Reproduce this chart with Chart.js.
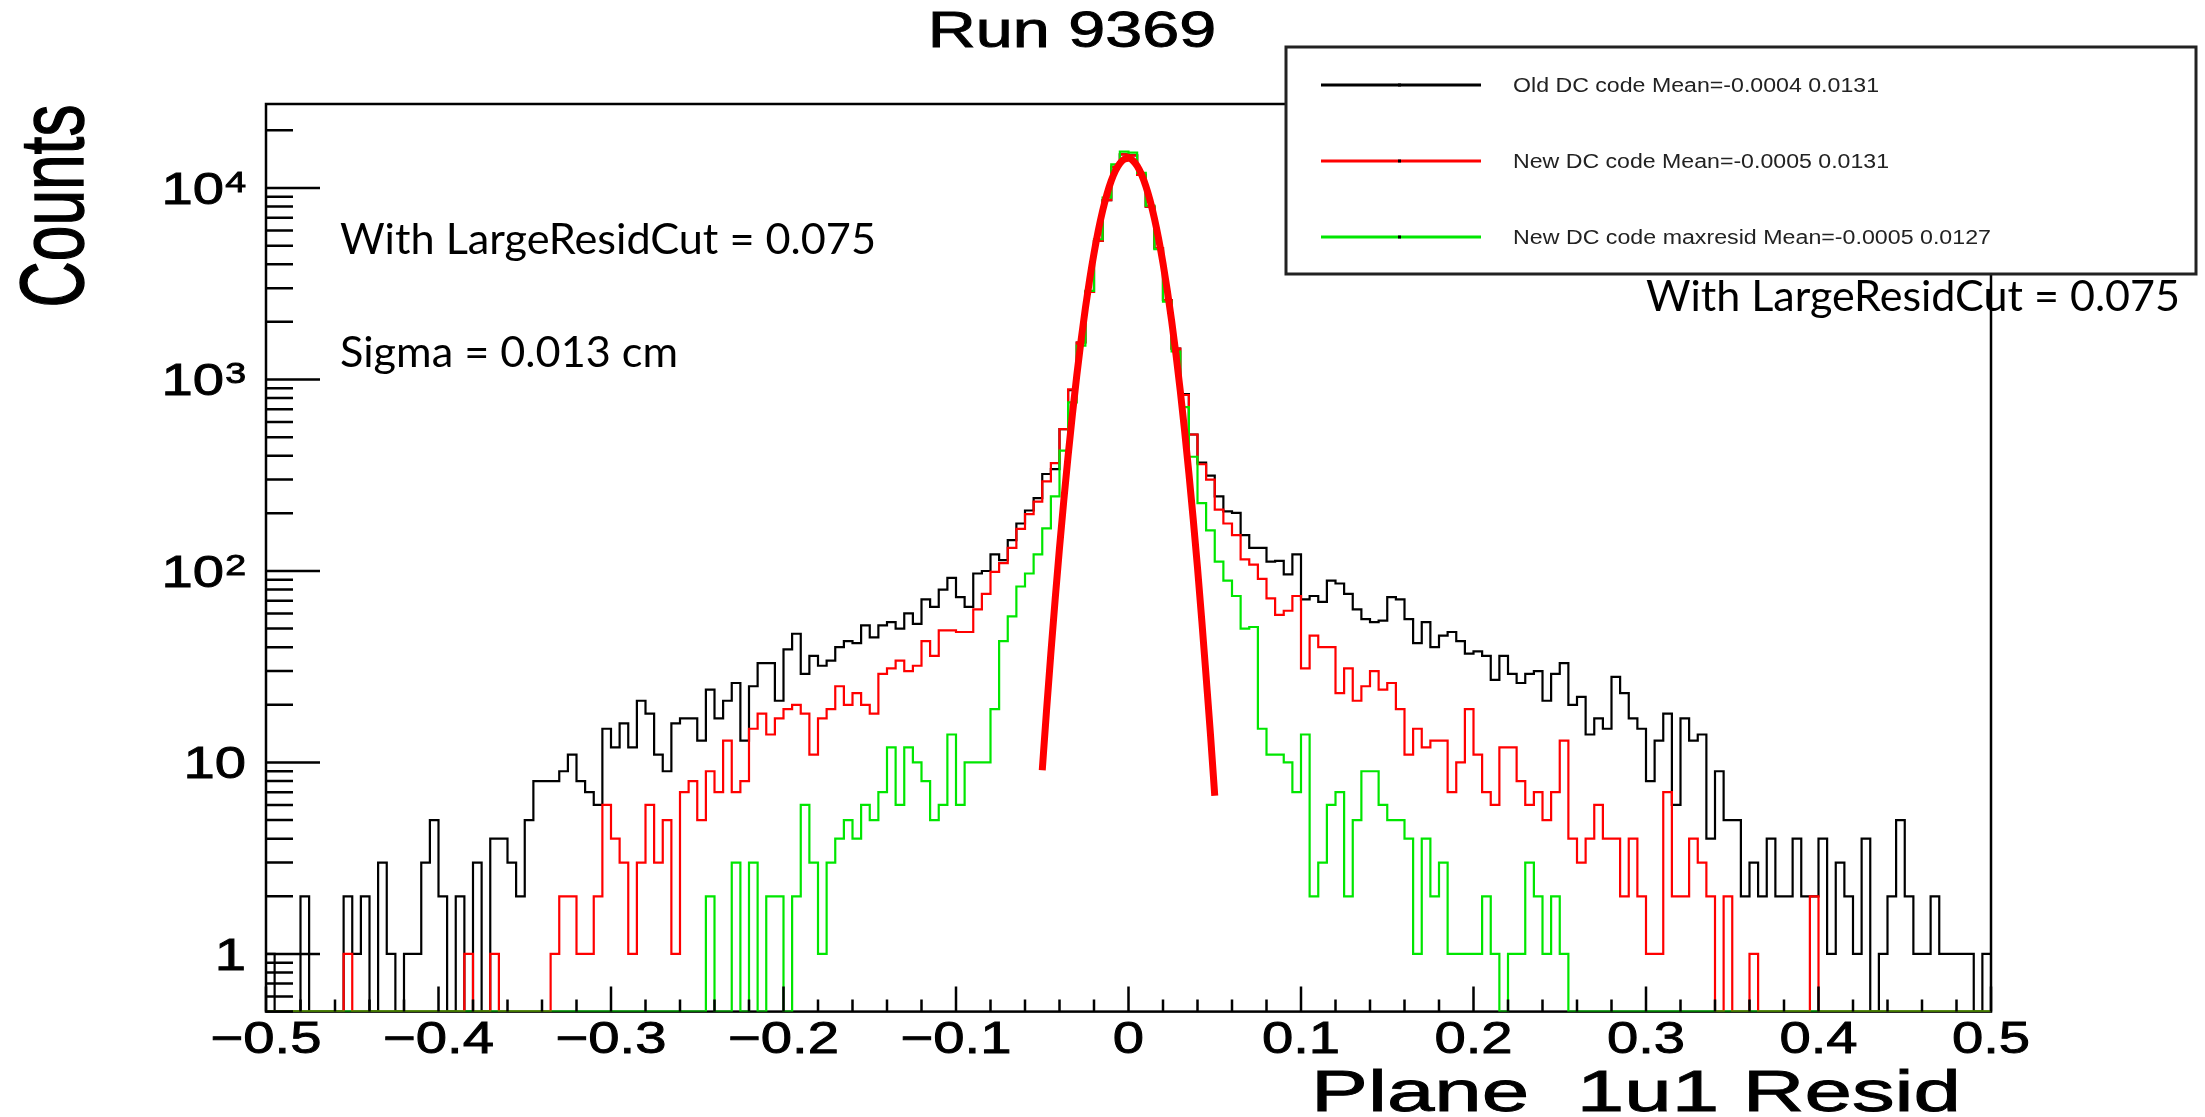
<!DOCTYPE html>
<html>
<head>
<meta charset="utf-8">
<title>Run 9369</title>
<script src="https://cdn.jsdelivr.net/npm/chart.js@4.4.1/dist/chart.umd.min.js"></script>
<style>
  html, body { margin: 0; padding: 0; background: #fff; }
  #wrap { width: 2205px; height: 1117px; position: relative; }
</style>
</head>
<body>
<div id="wrap"><canvas id="resid"></canvas></div>
<script>
// 200 bins from -0.5 to 0.5
const binLow = -0.5;
const binWidth = 0.005;

const oldDC = [
  1, 0, 0, 0, 2, 0, 0, 0, 0, 2, 1, 2, 0, 3, 1, 0, 1, 1, 3, 5,
  2, 0, 2, 0, 3, 0, 4, 4, 3, 2, 5, 8, 8, 8, 9, 11, 8, 7, 6, 15,
  12, 16, 12, 21, 18, 11, 9, 16, 17, 17, 13, 24, 17, 21, 26, 13, 25, 33, 33, 21,
  39, 47, 29, 36, 32, 34, 40, 43, 42, 52, 45, 52, 54, 50, 60, 53, 71, 65, 80, 92,
  73, 65, 97, 100, 122, 114, 145, 177, 207, 240, 321, 340, 550, 880, 1560, 2870, 5300, 8650, 12900, 15000,
  14800, 11700, 8000, 4850, 2600, 1450, 838, 516, 368, 315, 245, 205, 201, 154, 132, 132, 112, 113, 96, 122,
  71, 74, 69, 89, 86, 76, 63, 56, 54, 55, 73, 71, 56, 42, 54, 40, 46, 48, 43, 37,
  38, 36, 27, 36, 29, 26, 29, 30, 21, 29, 33, 20, 22, 14, 17, 15, 28, 23, 17, 15,
  8, 13, 18, 6, 17, 13, 14, 4, 9, 5, 5, 2, 3, 2, 4, 2, 2, 4, 2, 2,
  4, 1, 3, 2, 1, 4, 0, 1, 2, 5, 2, 1, 1, 2, 1, 1, 1, 1, 0, 1
];

const newDC = [
  0, 0, 0, 0, 0, 0, 0, 0, 0, 1, 0, 0, 0, 0, 0, 0, 0, 0, 0, 0,
  0, 0, 0, 1, 0, 0, 1, 0, 0, 0, 0, 0, 0, 1, 2, 2, 1, 1, 2, 6,
  4, 3, 1, 3, 6, 3, 5, 1, 7, 8, 5, 9, 7, 13, 7, 8, 15, 18, 14, 17,
  19, 20, 18, 11, 17, 19, 25, 20, 23, 20, 18, 29, 31, 34, 30, 32, 43, 36, 49, 49,
  48, 48, 63, 76, 99, 110, 132, 166, 198, 230, 294, 366, 551, 887, 1560, 2870, 5300, 8650, 12900, 15000,
  14800, 11700, 8000, 4850, 2600, 1450, 830, 516, 361, 300, 209, 177, 154, 115, 108, 91, 72, 59, 62, 74,
  31, 46, 40, 40, 23, 31, 21, 25, 30, 24, 26, 19, 11, 15, 12, 13, 13, 7, 10, 19,
  11, 7, 6, 12, 12, 8, 6, 7, 5, 7, 13, 4, 3, 4, 6, 4, 4, 2, 4, 2,
  1, 1, 7, 2, 2, 4, 3, 2, 0, 2, 0, 0, 1, 0, 0, 0, 0, 0, 0, 2,
  0, 0, 0, 0, 0, 0, 0, 0, 0, 0, 0, 0, 0, 0, 0, 0, 0, 0, 0, 0
];

const maxResid = [
  0, 0, 0, 0, 0, 0, 0, 0, 0, 0, 0, 0, 0, 0, 0, 0, 0, 0, 0, 0,
  0, 0, 0, 0, 0, 0, 0, 0, 0, 0, 0, 0, 0, 0, 0, 0, 0, 0, 0, 0,
  0, 0, 0, 0, 0, 0, 0, 0, 0, 0, 0, 2, 0, 0, 3, 0, 3, 0, 2, 2,
  0, 2, 6, 3, 1, 3, 4, 5, 4, 6, 5, 7, 12, 6, 12, 10, 8, 5, 6, 14,
  6, 10, 10, 10, 19, 43, 58, 83, 97, 122, 167, 245, 425, 760, 1500, 2900, 5400, 8900, 13300, 15500,
  15300, 12000, 8100, 4800, 2550, 1400, 718, 395, 226, 163, 112, 89, 74, 50, 51, 15, 11, 11, 10, 7,
  14, 2, 3, 6, 7, 2, 5, 9, 9, 6, 5, 5, 4, 1, 4, 2, 3, 1, 1, 1,
  1, 2, 1, 0, 1, 1, 3, 2, 1, 2, 1, 0, 0, 0, 0, 0, 0, 0, 0, 0,
  0, 0, 0, 0, 0, 0, 0, 0, 0, 0, 0, 0, 0, 0, 0, 0, 0, 0, 0, 0,
  0, 0, 0, 0, 0, 0, 0, 0, 0, 0, 0, 0, 0, 0, 0, 0, 0, 0, 0, 0
];

// gaussian fit over the peak, sampled every 0.0025 from -0.05
const fitLow = -0.05;
const fitStep = 0.0025;
const fitY = [
  9.1, 18.8, 37.3, 71.4, 132, 234, 400, 659, 1046, 1600,
  2355, 3341, 4562, 6000, 7602, 9278, 10904, 12342, 13456, 14129,
  14290, 13918, 13057, 11799, 10270, 8606, 6947, 5402, 4045, 2918,
  2027, 1356, 874, 542, 324, 187, 104, 55, 28, 14.1, 6.7
];

const seriesLabels = [
  "Old DC code Mean=-0.0004 0.0131",
  "New DC code Mean=-0.0005 0.0131",
  "New DC code maxresid Mean=-0.0005 0.0127"
];
const seriesColors = ["#000000", "#ff0000", "#00e600"];

const xTicks = [-0.5, -0.4, -0.3, -0.2, -0.1, 0, 0.1, 0.2, 0.3, 0.4, 0.5];
const xTickLabels = ["\u22120.5", "\u22120.4", "\u22120.3", "\u22120.2", "\u22120.1", "0", "0.1", "0.2", "0.3", "0.4", "0.5"];
const yTicks = [1, 10, 100, 1000, 10000];
const yTickLabels = ["1", "10", "10^2", "10^3", "10^4"];

const title = "Run 9369";
const xTitle = "Plane  1u1 Resid";
const yTitle = "Counts";
const notes = [
  { text: "With LargeResidCut = 0.075", x: 340, y: 254, w: 536 },
  { text: "Sigma = 0.013 cm", x: 340, y: 367, w: 338 },
  { text: "With LargeResidCut = 0.075", x: 1646, y: 311, w: 534 }
];

const yMin = 0.5;
const yMax = 27460;
const rootFont = '"Liberation Sans", Arial, sans-serif';
const noteFont = 'Lato, "Open Sans", sans-serif';
const sx = 1.25; // the ROOT canvas was pasted stretched sideways

function histPoints(counts) {
  const pts = counts.map((c, i) => ({ x: binLow + i * binWidth, y: c > 0 ? c : yMin }));
  pts.push({ x: binLow + counts.length * binWidth, y: pts[pts.length - 1].y });
  return pts;
}

// ROOT text: stretched sideways and a touch heavier
function wideText(ctx, text, x, y, size, align, scaleX) {
  ctx.save();
  ctx.font = size + "px " + rootFont;
  const w = ctx.measureText(text).width * scaleX;
  let x0 = x;
  if (align === "center") x0 = x - w / 2;
  if (align === "right") x0 = x - w;
  ctx.translate(x0, y);
  ctx.scale(scaleX, 1);
  ctx.textAlign = "left";
  ctx.textBaseline = "alphabetic";
  ctx.fillText(text, 0, 0);
  ctx.lineWidth = 0.9;
  ctx.strokeText(text, 0, 0);
  ctx.restore();
  return w;
}

function fitText(ctx, text, x, y, font, width) {
  ctx.save();
  ctx.font = font;
  const k = width / ctx.measureText(text).width;
  ctx.translate(x, y);
  ctx.scale(k, 1);
  ctx.textAlign = "left";
  ctx.textBaseline = "alphabetic";
  ctx.fillText(text, 0, 0);
  ctx.restore();
}

const rootFrame = {
  id: "rootFrame",
  beforeDatasetsDraw(chart) {
    const { ctx, chartArea: a } = chart;
    ctx.save();
    ctx.strokeStyle = "#000";
    ctx.lineWidth = 2.5;
    ctx.strokeRect(a.left, a.top, a.right - a.left, a.bottom - a.top);
    ctx.restore();
  },
  afterDatasetsDraw(chart) {
    const { ctx, chartArea: a } = chart;
    const xs = chart.scales.x, ys = chart.scales.y;
    ctx.save();
    ctx.strokeStyle = "#000";
    ctx.fillStyle = "#000";
    ctx.lineWidth = 2.5;

    // y ticks: decades long, 2..9 short
    ctx.beginPath();
    for (let d = -1; d <= 4; d++) {
      for (let m = 1; m <= 9; m++) {
        const v = m * Math.pow(10, d);
        if (v < yMin || v > yMax) continue;
        const py = ys.getPixelForValue(v);
        ctx.moveTo(a.left, py);
        ctx.lineTo(a.left + (m === 1 ? 54 : 27), py);
      }
    }
    // x ticks every 0.02, long every 0.1
    for (let k = -25; k <= 25; k++) {
      const px = xs.getPixelForValue(k * 0.02);
      ctx.moveTo(px, a.bottom);
      ctx.lineTo(px, a.bottom - (k % 5 === 0 ? 25 : 12));
    }
    ctx.stroke();

    // x tick labels
    xTicks.forEach((v, i) => {
      wideText(ctx, xTickLabels[i], xs.getPixelForValue(v), 1053, 45, "center", sx);
    });

    // y tick labels, with exponent as superscript
    yTicks.forEach((v, i) => {
      const py = ys.getPixelForValue(v);
      const [base, exp] = yTickLabels[i].split("^");
      const right = a.left - 20;
      if (exp) {
        ctx.font = "30px " + rootFont;
        const we = ctx.measureText(exp).width * sx;
        wideText(ctx, exp, right, py + 4, 30, "right", sx);
        wideText(ctx, base, right - we - 1, py + 16, 45, "right", sx);
      } else {
        wideText(ctx, base, right, py + 16, 45, "right", sx);
      }
    });

    // titles
    wideText(ctx, title, 1072, 47, 50, "center", 1.33);
    ctx.font = "58px " + rootFont;
    const xtW = ctx.measureText(xTitle).width;
    wideText(ctx, xTitle, 1961, 1111, 58, "right", 650 / xtW);
    ctx.save();
    ctx.translate(83, 206);
    ctx.scale(1.42, 1);
    ctx.rotate(-Math.PI / 2);
    ctx.font = "64px " + rootFont;
    ctx.textAlign = "center";
    ctx.textBaseline = "alphabetic";
    ctx.fillText(yTitle, 0, 0);
    ctx.lineWidth = 1;
    ctx.strokeText(yTitle, 0, 0);
    ctx.restore();

    // legend box
    const lx = 1286, ly = 47, lw = 910, lh = 227;
    ctx.fillStyle = "#fff";
    ctx.fillRect(lx, ly, lw, lh);
    ctx.strokeStyle = "#222";
    ctx.lineWidth = 3;
    ctx.strokeRect(lx, ly, lw, lh);
    const rowY = [85, 161, 237];
    const textW = [366, 376, 478];
    seriesLabels.forEach((lab, i) => {
      ctx.strokeStyle = seriesColors[i];
      ctx.lineWidth = 3;
      ctx.beginPath();
      ctx.moveTo(1321, rowY[i]);
      ctx.lineTo(1481, rowY[i]);
      ctx.stroke();
      ctx.fillStyle = "#000";
      ctx.fillRect(1398, rowY[i] - 1.5, 3, 3);
      ctx.fillStyle = "#222";
      fitText(ctx, lab, 1513, rowY[i] + 7, "20px " + rootFont, textW[i]);
    });

    // slide annotations
    ctx.fillStyle = "#000";
    notes.forEach(n => fitText(ctx, n.text, n.x, n.y, "42px " + noteFont, n.w));
    ctx.restore();
  }
};

const histStyle = { stepped: "before", pointRadius: 0, borderWidth: 2.2, fill: false, tension: 0 };

new Chart(document.getElementById("resid"), {
  type: "line",
  data: {
    datasets: [
      { ...histStyle, label: seriesLabels[0], data: histPoints(oldDC), borderColor: seriesColors[0], order: 3 },
      { ...histStyle, label: seriesLabels[1], data: histPoints(newDC), borderColor: seriesColors[1], order: 2 },
      { ...histStyle, label: seriesLabels[2], data: histPoints(maxResid), borderColor: seriesColors[2], order: 1 },
      {
        label: "fit",
        data: fitY.map((v, i) => ({ x: fitLow + i * fitStep, y: v })),
        borderColor: "#ff0000",
        borderWidth: 7,
        pointRadius: 0,
        fill: false,
        cubicInterpolationMode: "monotone",
        order: 0
      }
    ]
  },
  options: {
    responsive: true,
    maintainAspectRatio: false,
    animation: false,
    layout: { padding: { left: 266, top: 104, right: 214, bottom: 105.4 } },
    scales: {
      x: { type: "linear", min: -0.5, max: 0.5, display: false },
      y: { type: "logarithmic", min: yMin, max: yMax, display: false }
    },
    plugins: {
      legend: { display: false },
      tooltip: { enabled: false },
      title: { display: false }
    }
  },
  plugins: [rootFrame]
});
</script>
</body>
</html>
